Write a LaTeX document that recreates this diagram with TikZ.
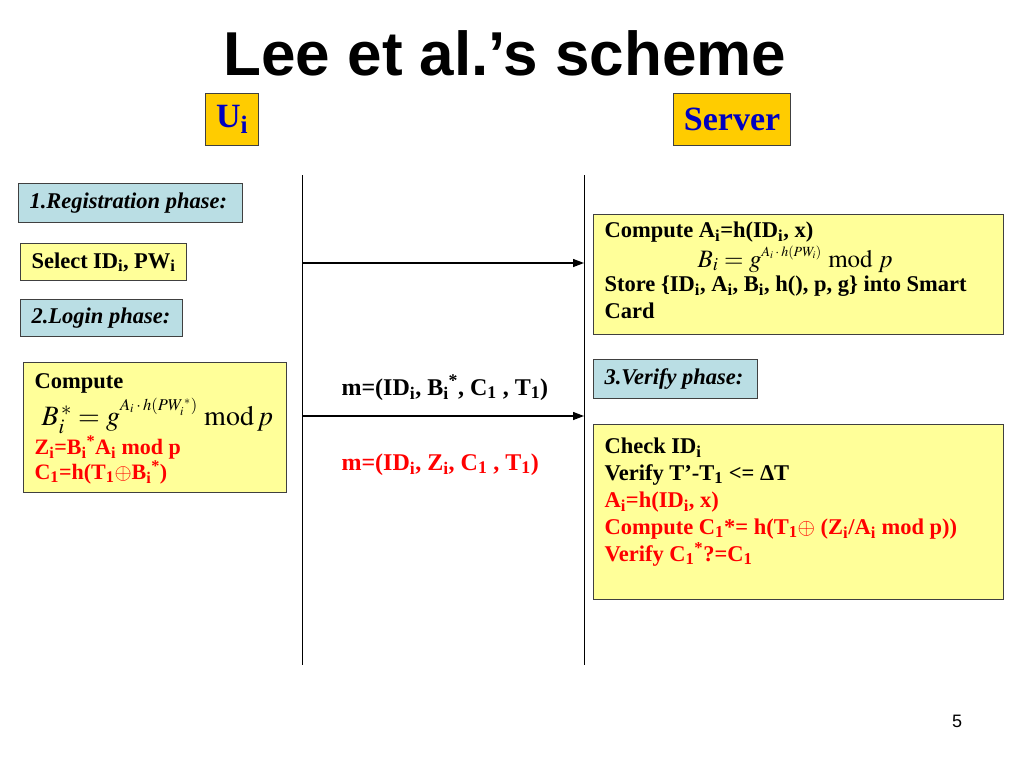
\documentclass[tikz,border=0pt]{standalone}
\usepackage{mathptmx}
\usepackage{amsmath}
\usepackage{fontspec}
\setmainfont{Liberation Serif}
\newfontfamily\titlefont{Liberation Sans}
\usetikzlibrary{arrows.meta}

\definecolor{cardyellow}{RGB}{255,255,153}
\definecolor{phaseblue}{RGB}{186,222,228}
\definecolor{roleorange}{RGB}{255,204,0}
\definecolor{roleblue}{RGB}{0,0,192}
\definecolor{framegray}{RGB}{64,64,64}

\newcommand{\lsub}[1]{\textsubscript{#1}}
\newcommand{\lsup}[1]{\textsuperscript{#1}}
\newcommand{\xorsign}{$\boldsymbol{\oplus}$}
\newcommand{\expo}[3]{\raisebox{#1}{\fontsize{#2}{#2}\selectfont$#3$}}

\tikzset{
  framed/.style={draw=framegray, line width=1.2pt, anchor=north west, inner xsep=11pt, inner ysep=0pt},
  phasebox/.style={framed, fill=phaseblue, font=\fontsize{22.5}{26}\selectfont\bfseries\itshape},
  stepbox/.style={framed, fill=cardyellow, font=\fontsize{22.5}{27}\selectfont\bfseries},
  rolebox/.style={draw=framegray, line width=1.2pt, fill=roleorange, anchor=north west, inner sep=0pt, text=roleblue, font=\fontsize{34}{36}\selectfont\bfseries},
  lifeline/.style={line width=1pt},
  msg/.style={line width=1.3pt, -{Triangle[length=11pt,width=8pt]}},
  msglabel/.style={anchor=base west, font=\fontsize{24}{28}\selectfont\bfseries},
}

\begin{document}
\begin{tikzpicture}[x=1pt, y=-1pt]
  \fill[white] (0,0) rectangle (1024,768);%
  \useasboundingbox (0,0) rectangle (1024,768);%

  % Drawing title
  \node (title) at (505,75) [anchor=base, font=\titlefont\fontsize{62}{66}\selectfont\bfseries] {Lee et al.’s scheme};%

  % Drawing role boxes
  \node (user) at (205,93) [rolebox, minimum width=53pt, minimum height=52pt] {U\lsub{i}};%
  \node (server) at (673,93) [rolebox, minimum width=117pt, minimum height=52pt] {Server};%

  % Drawing lifelines
  \coordinate (utop) at (302,175);%
  \coordinate (ubot) at (302,665);%
  \coordinate (stop) at (584,175);%
  \coordinate (sbot) at (584,665);%
  \draw [lifeline] (utop) -- (ubot);%
  \draw [lifeline] (stop) -- (sbot);%

  % Registration phase
  \node (regphase) at (18,183) [phasebox] {\parbox[c][39pt][c]{202pt}{1.Registration phase:}};%
  \node (select) at (20,243) [stepbox] {\parbox[c][37pt][c]{144pt}{Select ID\lsub{i}, PW\lsub{i}}};%
  \coordinate (regfrom) at (302,263);%
  \coordinate (regto) at (584,263);%
  \draw [msg] (regfrom) -- (regto);%
  \node (servreg) at (593,214) [stepbox, inner ysep=7pt] {\parbox[c][106pt][t]{388pt}{%
    Compute A\lsub{i}=h(ID\lsub{i}, x)\\
    \hspace*{93pt}\smash{\raisebox{-3pt}{\fontsize{25}{27}\selectfont$B_i = g$\expo{11pt}{14}{A_i\cdot h(PW_i)}\;$\mathrm{mod}\;p$}}\\
    Store \{ID\lsub{i}, A\lsub{i}, B\lsub{i}, h(), p, g\} into Smart\\
    Card}};%

  % Login phase
  \node (loginphase) at (20,299) [phasebox] {\parbox[c][37pt][c]{140pt}{2.Login phase:}};%
  \node (usercomp) at (23,362) [stepbox, inner ysep=11pt] {\parbox[c][108pt][t]{241pt}{%
    \fontsize{22.5}{25}\selectfont Compute\\[12pt]
    \hspace*{7pt}\smash{\fontsize{28}{28}\selectfont$B_i^{\,*} = g$\expo{15pt}{16.5}{A_i\cdot h(PW_i^{\,*})}\ $\mathrm{mod}\,p$}\\[4pt]
    \textcolor{red}{\fontsize{22}{25}\selectfont Z\lsub{i}=B\lsub{i}\lsup{*}A\lsub{i} mod p}\\
    \textcolor{red}{\fontsize{22}{25}\selectfont C\lsub{1}=h(T\lsub{1}\xorsign B\lsub{i}\lsup{*})}}};%
  \coordinate (loginfrom) at (302,416);%
  \coordinate (loginto) at (584,416);%
  \draw [msg] (loginfrom) -- (loginto);%
  \node (msgone) at (338,395) [msglabel] {m=(ID\lsub{i}, B\lsub{i}\lsup{*}, C\lsub{1} , T\lsub{1})};%
  \node (msgtwo) at (338,470) [msglabel, text=red] {m=(ID\lsub{i}, Z\lsub{i}, C\lsub{1} , T\lsub{1})};%

  % Verify phase
  \node (verphase) at (593,359) [phasebox] {\parbox[c][39pt][c]{142pt}{3.Verify phase:}};%
  \node (servver) at (593,424) [stepbox, inner ysep=13pt] {\parbox[c][149pt][t]{388pt}{%
    Check ID\lsub{i}\\
    Verify T’-T\lsub{1} <= ΔT\\
    \color{red}A\lsub{i}=h(ID\lsub{i}, x)\\
    Compute C\lsub{1}*= h(T\lsub{1}\xorsign{} (Z\lsub{i}/A\lsub{i} mod p))\\
    Verify C\lsub{1}\lsup{*}?=C\lsub{1}}};%

  % Page number
  \node (pagenum) at (957,727) [anchor=base, font=\titlefont\fontsize{18}{20}\selectfont] {5};%
\end{tikzpicture}
\end{document}
